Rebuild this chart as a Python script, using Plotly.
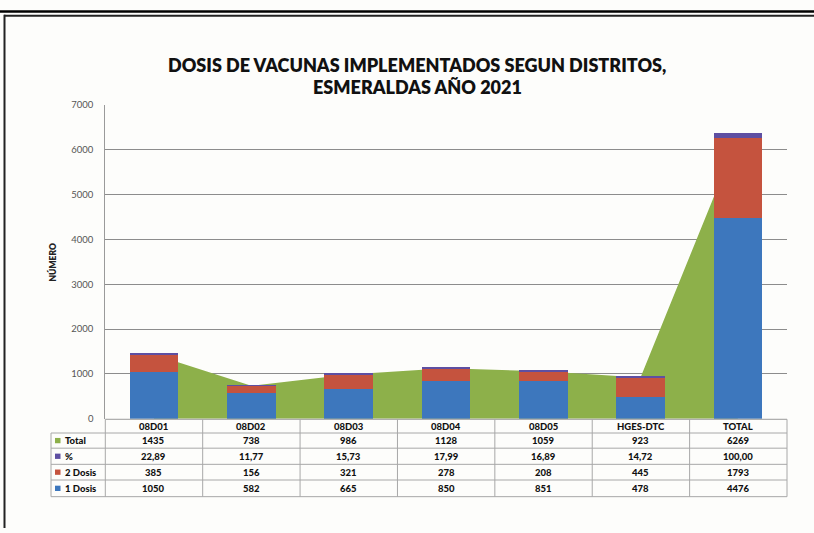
import plotly.graph_objects as go

categories = ["08D01", "08D02", "08D03", "08D04", "08D05", "HGES-DTC", "TOTAL"]
total = [1435, 738, 986, 1128, 1059, 923, 6269]
pct = [22.89, 11.77, 15.73, 17.99, 16.89, 14.72, 100.00]
dosis2 = [385, 156, 321, 278, 208, 445, 1793]
dosis1 = [1050, 582, 665, 850, 851, 478, 4476]
y_ticks = [0, 1000, 2000, 3000, 4000, 5000, 6000, 7000]

W, H = 814, 533
def px(x): return x / W
def py(y): return 1 - y / H

GREEN = "#8DB04A"
BLUE = "#3D77BD"
RED = "#C5533E"
PURPLE = "#5E4FA2"
FONT = "Lato"

X0, X1 = 105.3, 786.5
Y0, Y1 = 421.5, 101.0

fig = go.Figure()
fig.add_trace(go.Scatter(x=categories, y=total, mode="none", fill="tozeroy",
                         fillcolor=GREEN, xaxis="x", yaxis="y", name="Total",
                         hoverinfo="skip"))
for name, vals, col in [("1 Dosis", dosis1, BLUE), ("2 Dosis", dosis2, RED), ("%", pct, PURPLE)]:
    fig.add_trace(go.Bar(x=categories, y=vals, name=name, marker_color=col,
                         marker_line_width=0, width=0.5, xaxis="x2", yaxis="y"))

fig.update_layout(
    width=W, height=H, margin=dict(l=0, r=0, t=0, b=0),
    paper_bgcolor="#FDFDFB", plot_bgcolor="#FDFDFB",
    barmode="stack", showlegend=False,
    xaxis=dict(domain=[px(X0), px(X1)], range=[-0.5, 6.5], type="category",
               categoryorder="array", categoryarray=categories,
               showticklabels=False, showgrid=False, zeroline=False, ticks=""),
    xaxis2=dict(domain=[px(X0), px(X1)], range=[-0.5, 6.5], type="category",
                categoryorder="array", categoryarray=categories,
                overlaying="x", visible=False),
    yaxis=dict(domain=[py(Y0), py(Y1)], range=[0, 7000], tickvals=y_ticks,
               showgrid=True, gridcolor="#8C8C8C", gridwidth=1, zeroline=False,
               showline=True, linecolor="#9A9A9A", linewidth=1,
               ticks="", ticklabelstandoff=9,
               tickfont=dict(family=FONT, size=9.5, color="#555555")),
)

shapes = []
LC = "#A8A8A8"
col_w = (787.0 - X0) / len(categories)
row_y = [422, 436, 451.5, 468, 484, 501]
LX = 51
shapes.append(dict(type="line", xref="paper", yref="paper", x0=px(X0), x1=px(787), y0=py(422), y1=py(422), line=dict(color="#9A9A9A", width=1)))
for yy in row_y[1:]:
    shapes.append(dict(type="line", xref="paper", yref="paper", x0=px(LX), x1=px(787), y0=py(yy), y1=py(yy), line=dict(color=LC, width=1)))
shapes.append(dict(type="line", xref="paper", yref="paper", x0=px(LX), x1=px(LX), y0=py(436), y1=py(501), line=dict(color=LC, width=1)))
for k in range(len(categories) + 1):
    xx = X0 + k * col_w
    shapes.append(dict(type="line", xref="paper", yref="paper", x0=px(xx), x1=px(xx), y0=py(422), y1=py(501), line=dict(color=LC, width=1)))

# frame
shapes.append(dict(type="line", xref="paper", yref="paper", x0=0, x1=1, y0=py(5.5), y1=py(5.5), line=dict(color="#000000", width=2.5)))
shapes.append(dict(type="line", xref="paper", yref="paper", x0=px(4), x1=1, y0=py(10), y1=py(10), line=dict(color="#222222", width=2)))
shapes.append(dict(type="line", xref="paper", yref="paper", x0=px(4.5), x1=px(4.5), y0=py(9), y1=0, line=dict(color="#222222", width=2)))

annotations = []
annotations.append(dict(text="DOSIS DE VACUNAS IMPLEMENTADOS SEGUN DISTRITOS,", x=px(417), y=py(60),
                        xref="paper", yref="paper", showarrow=False, xanchor="center", yanchor="middle",
                        font=dict(family=FONT, size=18, color="#111111", weight=800)))
annotations.append(dict(text="ESMERALDAS AÑO 2021", x=px(417), y=py(83),
                        xref="paper", yref="paper", showarrow=False, xanchor="center", yanchor="middle",
                        font=dict(family=FONT, size=18, color="#111111", weight=800)))
annotations.append(dict(text="NÚMERO", x=px(53), y=py(262), xref="paper", yref="paper",
                        showarrow=False, textangle=-90, xanchor="center", yanchor="middle",
                        font=dict(family=FONT, size=8.5, color="#222222", weight=800)))

TF = dict(family=FONT, size=9.5, color="#111111", weight=900)
for i, c in enumerate(categories):
    annotations.append(dict(text=c, x=px(X0 + (i + 0.5) * col_w), y=py(429), xref="paper", yref="paper",
                            showarrow=False, xanchor="center", yanchor="middle", font=TF))

def fmt_int(v): return f"{int(v)}"
def fmt_pct(v): return f"{v:.2f}".replace(".", ",")

rows = [("Total", total, GREEN, fmt_int),
        ("%", pct, PURPLE, fmt_pct),
        ("2 Dosis", dosis2, RED, fmt_int),
        ("1 Dosis", dosis1, BLUE, fmt_int)]
for r, (label, vals, col, f) in enumerate(rows):
    yc = (row_y[r + 1] + row_y[r + 2]) / 2
    shapes.append(dict(type="rect", xref="paper", yref="paper", x0=px(55), x1=px(60.5),
                       y0=py(yc - 2.7), y1=py(yc + 2.7), fillcolor=col, line=dict(width=0)))
    annotations.append(dict(text=label, x=px(62.5), y=py(yc), xref="paper", yref="paper",
                            showarrow=False, xanchor="left", yanchor="middle", font=TF))
    for i, v in enumerate(vals):
        annotations.append(dict(text=f(v), x=px(X0 + (i + 0.5) * col_w), y=py(yc),
                                xref="paper", yref="paper", showarrow=False,
                                xanchor="center", yanchor="middle", font=TF))

fig.update_layout(shapes=shapes, annotations=annotations)
fig.write_html("out.html", config={"displayModeBar": False},
               post_script="document.body.style.margin='0';document.body.style.overflow='hidden';")
